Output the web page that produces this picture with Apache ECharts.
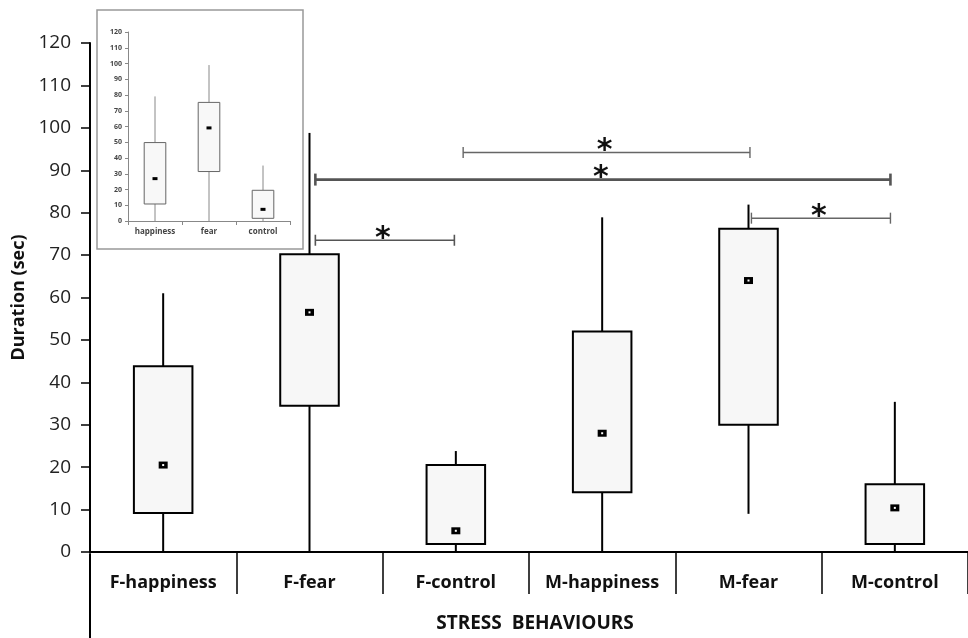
<!DOCTYPE html>
<html>
<head>
<meta charset="utf-8">
<script src="https://cdn.jsdelivr.net/npm/echarts@6/dist/echarts.min.js"></script>
<style>
  html, body { margin: 0; padding: 0; background: #fff; }
  #chart { width: 968px; height: 638px; }
</style>
</head>
<body>
<div id="chart"></div>
<script>
// main panel: stress behaviours by sex and condition
const categories = ['F-happiness', 'F-fear', 'F-control', 'M-happiness', 'M-fear', 'M-control']
const whiskerLow = [0, 0, 0, 0, 9, 0]
const q1 = [9.2, 34.5, 1.9, 14.1, 30, 1.9]
const q3 = [43.8, 70.2, 20.5, 52, 76.2, 16]
const whiskerHigh = [61, 98.8, 23.8, 78.9, 81.9, 35.4]
const means = [20.5, 56.5, 5, 28, 64, 10.4]

// significance brackets (x in category units, y in seconds)
const bracketStart = [1.04, 2.05, 1.04, 4.02]
const bracketEnd = [1.99, 4.01, 4.97, 4.97]
const bracketLevel = [73.5, 94.2, 87.8, 78.7]

// inset panel: sexes pooled
const insetCategories = ['happiness', 'fear', 'control']
const insetLow = [0, 0, 0]
const insetQ1 = [10.8, 31.4, 1.7]
const insetQ3 = [49.8, 75.3, 19.5]
const insetHigh = [79.1, 99, 35.2]
const insetMeans = [26.9, 59.1, 7.4]

const yTicks = { min: 0, max: 120, interval: 10 }

const chartInstance = echarts.init(document.getElementById('chart'), null, { renderer: 'canvas' })

function boxRenderer(boxFrac, stroke, whiskerStroke, lineWidth, fill) {
  return function (params, api) {
    const i = api.value(0)
    const lo = api.coord([i, api.value(1)])
    const b = api.coord([i, api.value(2)])
    const t = api.coord([i, api.value(3)])
    const hi = api.coord([i, api.value(4)])
    const w = api.size([1, 0])[0] * boxFrac
    return {
      type: 'group',
      children: [
        { type: 'line', shape: { x1: lo[0], y1: lo[1], x2: b[0], y2: b[1] }, style: { stroke: whiskerStroke, lineWidth: lineWidth } },
        { type: 'line', shape: { x1: t[0], y1: t[1], x2: hi[0], y2: hi[1] }, style: { stroke: whiskerStroke, lineWidth: lineWidth } },
        { type: 'rect', shape: { x: t[0] - w / 2, y: t[1], width: w, height: b[1] - t[1] }, style: { fill: fill, stroke: stroke, lineWidth: lineWidth } },
      ],
    }
  }
}

const bracketStyle = [
  { stroke: '#555', lineWidth: 1.6, cap: 11 },
  { stroke: '#666', lineWidth: 1.4, cap: 11 },
  { stroke: '#555', lineWidth: 2.6, cap: 12 },
  { stroke: '#666', lineWidth: 1.4, cap: 11 },
]

function renderBracket(params, api) {
  const s = bracketStyle[params.dataIndex]
  const a = api.coord([api.value(0), api.value(2)])
  const b = api.coord([api.value(1), api.value(2)])
  const h = s.cap / 2
  return {
    type: 'group',
    children: [
      { type: 'line', shape: { x1: a[0], y1: a[1], x2: b[0], y2: b[1] }, style: { stroke: s.stroke, lineWidth: s.lineWidth } },
      { type: 'line', shape: { x1: a[0], y1: a[1] - h, x2: a[0], y2: a[1] + h }, style: { stroke: s.stroke, lineWidth: s.lineWidth } },
      { type: 'line', shape: { x1: b[0], y1: b[1] - h, x2: b[0], y2: b[1] + h }, style: { stroke: s.stroke, lineWidth: s.lineWidth } },
      {
        type: 'text',
        x: (a[0] + b[0]) / 2 - 2,
        y: a[1] - 1,
        style: { text: '*', fill: '#111', font: 'bold 30px "DejaVu Sans"', align: 'center', verticalAlign: 'middle' },
      },
    ],
  }
}

const boxData = categories.map((c, i) => [i, whiskerLow[i], q1[i], q3[i], whiskerHigh[i]])
const insetBoxData = insetCategories.map((c, i) => [i, insetLow[i], insetQ1[i], insetQ3[i], insetHigh[i]])
const bracketData = bracketStart.map((s, i) => [s, bracketEnd[i], bracketLevel[i]])

const option = {
  animation: false,
  backgroundColor: '#fff',
  textStyle: { fontFamily: '"Open Sans", "Noto Sans", sans-serif' },
  grid: [
    { left: 90, right: 0, top: 43, bottom: 83 },
    { left: 128, top: 32, width: 162, height: 189 },
  ],
  xAxis: [
    {
      type: 'category',
      gridIndex: 0,
      data: categories,
      name: 'STRESS  BEHAVIOURS',
      nameLocation: 'middle',
      nameGap: 62,
      nameTextStyle: { fontSize: 19, fontWeight: 'bold', color: '#111', padding: [0, 0, 0, 12] },
      axisLine: { lineStyle: { color: '#000', width: 2 } },
      axisTick: { show: true, length: 42, lineStyle: { color: '#000', width: 1.5 } },
      axisLabel: { fontSize: 18, fontWeight: 'bold', color: '#111', margin: 22, interval: 0 },
      splitLine: { show: false },
    },
    {
      type: 'value',
      gridIndex: 0,
      min: -0.5,
      max: 5.5,
      show: false,
    },
    {
      type: 'category',
      gridIndex: 1,
      data: insetCategories,
      axisLine: { lineStyle: { color: '#888', width: 1 } },
      axisTick: { show: true, length: 4, lineStyle: { color: '#888' } },
      axisLabel: { fontSize: 8, fontWeight: 'bold', color: '#444', margin: 7 },
    },
  ],
  yAxis: [
    {
      type: 'value',
      gridIndex: 0,
      min: yTicks.min,
      max: yTicks.max,
      interval: yTicks.interval,
      name: 'Duration (sec)',
      nameLocation: 'middle',
      nameGap: 53,
      nameRotate: 90,
      nameTextStyle: { fontSize: 18, fontWeight: 'bold', color: '#111' },
      axisLine: { show: true, onZero: false, lineStyle: { color: '#000', width: 2 } },
      axisTick: { show: true, length: 9, lineStyle: { color: '#000', width: 1.5 } },
      axisLabel: { fontSize: 19, color: '#222', margin: 19 },
      splitLine: { show: false },
    },
    {
      type: 'value',
      gridIndex: 1,
      min: yTicks.min,
      max: yTicks.max,
      interval: yTicks.interval,
      axisLine: { show: true, onZero: false, lineStyle: { color: '#888', width: 1 } },
      axisTick: { show: true, length: 3, lineStyle: { color: '#888' } },
      axisLabel: { fontSize: 7, fontWeight: 'bold', color: '#444', margin: 6 },
      splitLine: { show: false },
    },
  ],
  graphic: [
    {
      type: 'rect',
      z: -1,
      shape: { x: 97, y: 10, width: 206, height: 239 },
      style: { fill: '#fff', stroke: '#999', lineWidth: 1.5 },
    },
    {
      type: 'line',
      shape: { x1: 90, y1: 554, x2: 90, y2: 638 },
      style: { stroke: '#000', lineWidth: 2 },
    },
  ],
  series: [
    {
      type: 'custom',
      xAxisIndex: 0,
      yAxisIndex: 0,
      renderItem: boxRenderer(0.4, '#000', '#000', 2, '#f7f7f7'),
      data: boxData,
      z: 2,
    },
    {
      type: 'scatter',
      xAxisIndex: 0,
      yAxisIndex: 0,
      symbol: 'rect',
      symbolSize: [9, 7],
      itemStyle: { color: '#000', opacity: 1 },
      data: means.map((m, i) => [i, m]),
      z: 3,
    },
    {
      type: 'scatter',
      xAxisIndex: 0,
      yAxisIndex: 0,
      symbol: 'rect',
      symbolSize: [2, 2],
      itemStyle: { color: '#fff', opacity: 1 },
      data: means.map((m, i) => [i, m]),
      z: 4,
    },
    {
      type: 'custom',
      xAxisIndex: 1,
      yAxisIndex: 0,
      renderItem: renderBracket,
      data: bracketData,
      z: 3,
    },
    {
      type: 'custom',
      xAxisIndex: 2,
      yAxisIndex: 1,
      renderItem: boxRenderer(0.4, '#666', '#888', 1, '#f8f8f8'),
      data: insetBoxData,
      z: 2,
    },
    {
      type: 'scatter',
      xAxisIndex: 2,
      yAxisIndex: 1,
      symbol: 'rect',
      symbolSize: [5, 3],
      itemStyle: { color: '#000', opacity: 1 },
      data: insetMeans.map((m, i) => [i, m]),
      z: 3,
    },
  ],
}

chartInstance.setOption(option)
</script>
</body>
</html>
